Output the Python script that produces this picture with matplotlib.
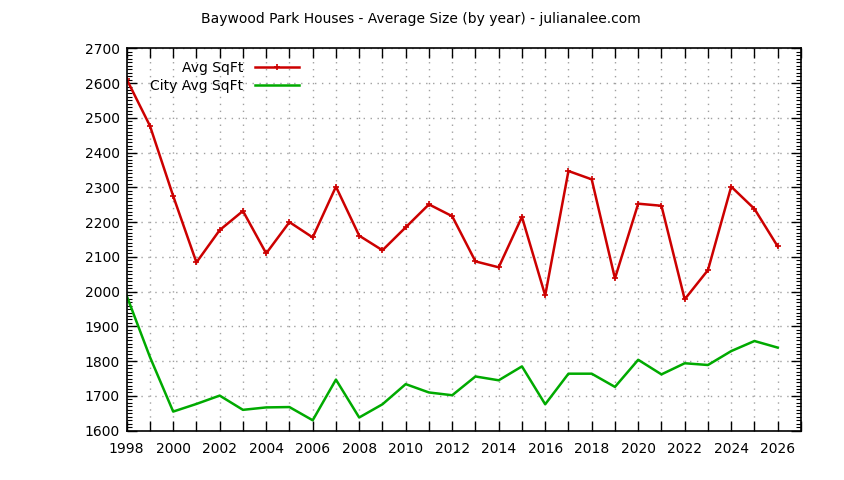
import matplotlib
matplotlib.use("Agg")
import matplotlib.pyplot as plt
from matplotlib.ticker import MultipleLocator, FuncFormatter

# data
years = list(range(1998, 2027))
avg_sqft = [2611, 2477, 2275, 2084, 2177, 2232, 2110, 2200, 2156, 2302,
            2161, 2119, 2185, 2251, 2217, 2087, 2070, 2215, 1989, 2347,
            2323, 2038, 2253, 2247, 1978, 2062, 2302, 2238, 2130]
city_avg_sqft = [1988, 1812, 1655, 1677, 1701, 1660, 1667, 1668, 1630, 1747,
                 1638, 1676, 1734, 1710, 1702, 1756, 1745, 1785, 1676, 1764,
                 1764, 1726, 1804, 1762, 1794, 1789, 1829, 1858, 1839]
series_labels = ["Avg SqFt", "City Avg SqFt"]
title = "Baywood Park Houses - Average Size (by year) - julianalee.com"

RED = "#cc0000"
GREEN = "#00aa00"

plt.rcParams["font.family"] = ["DejaVu Sans"]
plt.rcParams["font.size"] = 10

fig = plt.figure(figsize=(8.44, 4.8), dpi=100)
ax = fig.add_axes([0.1501, 0.1027, 0.949 - 0.1501, 0.8994 - 0.1027])

ax.plot(years, avg_sqft, color=RED, lw=1.8, marker="+", ms=4, mew=1.2,
        label=series_labels[0])
ax.plot(years, city_avg_sqft, color=GREEN, lw=1.8, label=series_labels[1])

ax.set_xlim(1998, 2027)
ax.set_ylim(1600, 2700)
ax.xaxis.set_major_locator(MultipleLocator(1))
ax.yaxis.set_major_locator(MultipleLocator(100))
ax.yaxis.set_minor_locator(MultipleLocator(10))
ax.xaxis.set_major_formatter(FuncFormatter(
    lambda v, pos: f"{int(round(v))}" if round(v) % 2 == 0 and v < 2026.5 else ""))

ax.tick_params(which="major", direction="in", length=7, width=1,
               top=True, right=True, labelsize=10)
ax.tick_params(axis="x", which="major", pad=8)
ax.tick_params(axis="y", which="major", pad=5)
ax.tick_params(which="minor", direction="in", length=3.5, width=0.8,
               left=True, right=True)
ax.tick_params(axis="x", which="minor", bottom=False, top=False)

ax.grid(True, which="major", color="#a0a0a0", ls=(0, (1, 4)), lw=1)
for s in ax.spines.values():
    s.set_linewidth(1.2)

ax.legend(loc="upper right", bbox_to_anchor=(0.270, 0.992), markerfirst=False,
          frameon=False, handlelength=3.2, handletextpad=0.8,
          labelspacing=0.3, borderaxespad=0.3, fontsize=10)

fig.text(0.499, 0.960, title, ha="center", va="center", fontsize=10)

fig.savefig("out.png", dpi=100, facecolor="white")
